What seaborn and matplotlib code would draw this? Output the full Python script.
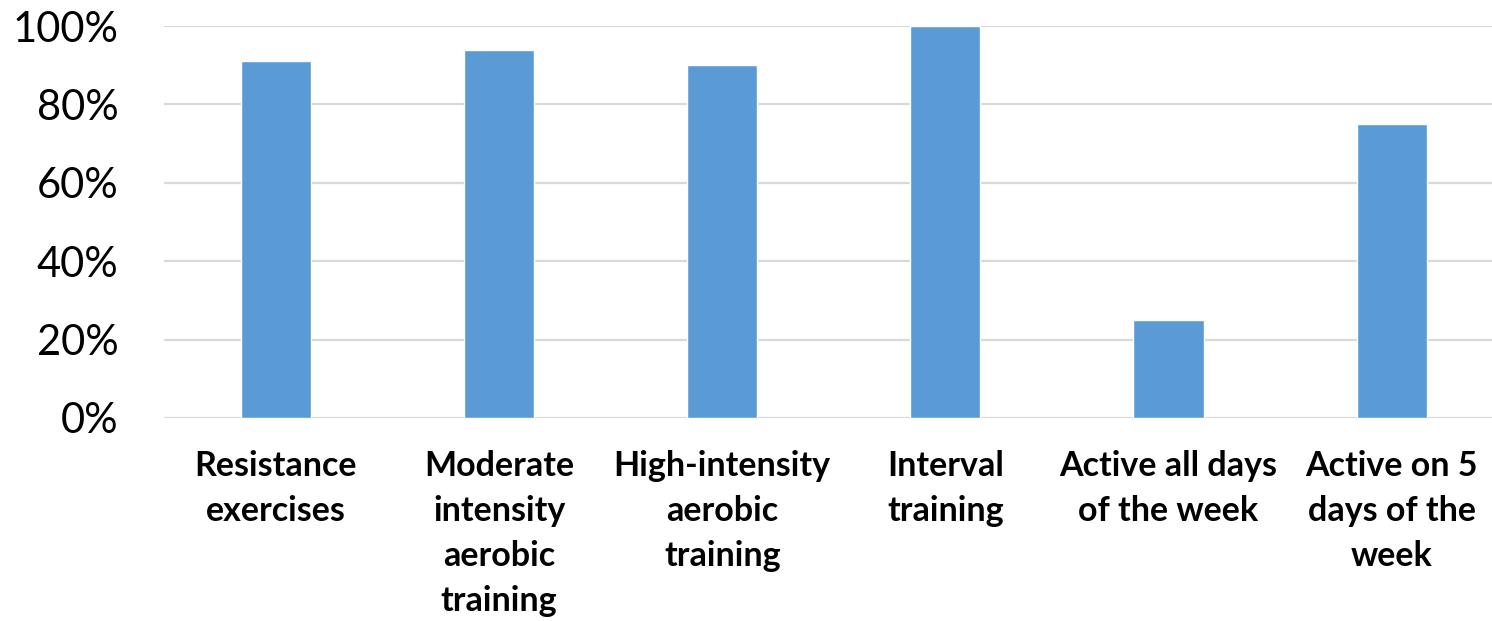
import matplotlib
matplotlib.use("Agg")
import matplotlib.pyplot as plt
from matplotlib.ticker import FuncFormatter, MultipleLocator
import seaborn as sns
import pandas as pd

categories = [
    "Resistance\nexercises",
    "Moderate\nintensity\naerobic\ntraining",
    "High-intensity\naerobic\ntraining",
    "Interval\ntraining",
    "Active all days\nof the week",
    "Active on 5\ndays of the\nweek",
]
percentages = [91, 94, 90, 100, 25, 75]

sns.set_theme(style="white")
plt.rcParams["font.family"] = ["Lato", "DejaVu Sans"]

df = pd.DataFrame({"category": categories, "pct": percentages})

fig = plt.figure(figsize=(14.92, 6.21), dpi=100)
ax = fig.add_axes([0.1102, 0.3269, 0.8898, 0.6312])

sns.barplot(data=df, x="category", y="pct", color="#5B9BD5", saturation=1,
            width=0.314, ax=ax, zorder=3)

ax.set_ylim(0, 100)
ax.set_xlim(-0.5, 5.45)
ax.yaxis.set_major_locator(MultipleLocator(20))
ax.yaxis.set_major_formatter(FuncFormatter(lambda v, p: f"{int(v)}%"))
ax.grid(axis="y", color="#D9D9D9", linewidth=1.6, zorder=0)
ax.set_axisbelow(True)
for s in ax.spines.values():
    s.set_visible(False)
ax.set_xlabel("")
ax.set_ylabel("")
ax.tick_params(axis="y", length=0, pad=33, labelsize=30, labelcolor="black")
ax.tick_params(axis="x", length=0, pad=23, labelsize=24.5, labelcolor="black")
for lbl in ax.get_xticklabels():
    lbl.set_fontweight("bold")
    lbl.set_linespacing(1.5)
    lbl.set_verticalalignment("top")

fig.savefig("out.png", dpi=100, facecolor="white")
